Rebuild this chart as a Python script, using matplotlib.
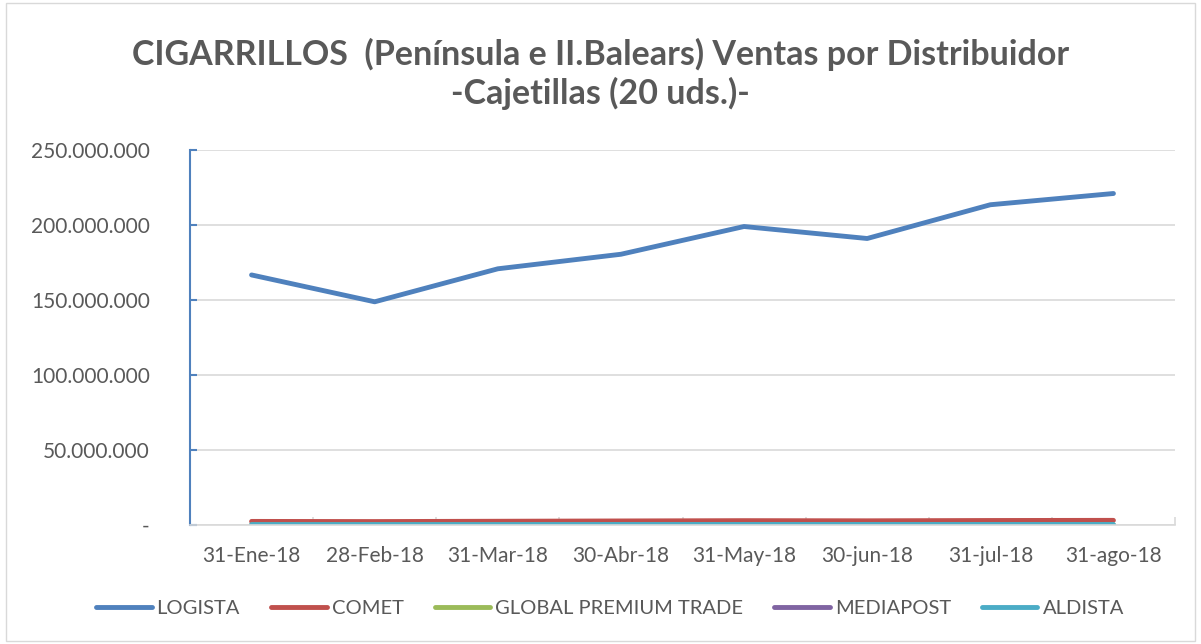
import numpy as np
import matplotlib.pyplot as plt
from matplotlib.ticker import FuncFormatter

# Данные
fechas = ['31-Ene-18', '28-Feb-18', '31-Mar-18', '30-Abr-18',
          '31-May-18', '30-jun-18', '31-jul-18', '31-ago-18']
logista = [166.7e6, 148.8e6, 170.8e6, 180.5e6, 199.0e6, 191.0e6, 213.5e6, 221.0e6]
comet = [2.4e6, 2.3e6, 2.5e6, 2.7e6, 2.9e6, 2.8e6, 3.0e6, 3.1e6]
global_premium = [0.05e6, 0.05e6, 0.05e6, 0.05e6, 0.06e6, 0.06e6, 0.06e6, 0.06e6]
mediapost = [0.1e6, 0.1e6, 0.1e6, 0.1e6, 0.1e6, 0.1e6, 0.1e6, 0.1e6]
aldista = [0.3e6, 0.3e6, 0.3e6, 0.35e6, 0.35e6, 0.35e6, 0.35e6, 0.35e6]

series = [
    ('LOGISTA', logista, '#4f81bd'),
    ('COMET', comet, '#c0504d'),
    ('GLOBAL PREMIUM TRADE', global_premium, '#9bbb59'),
    ('MEDIAPOST', mediapost, '#8064a2'),
    ('ALDISTA', aldista, '#4bacc6'),
]

plt.rcParams['font.family'] = ['Lato', 'DejaVu Sans']
gris = '#595959'

fig = plt.figure(figsize=(12.01, 6.44), dpi=100)
ax = fig.add_axes([190 / 1201, 1 - 525 / 644, 985 / 1201, 375 / 644])

x = np.arange(len(fechas))
for nombre, valores, color in series:
    ax.plot(x, valores, color=color, lw=3.5, label=nombre,
            solid_capstyle='round', solid_joinstyle='round')

ax.set_xlim(-0.5, len(fechas) - 0.5)
ax.set_ylim(0, 250e6)
ax.set_yticks(np.arange(0, 250e6 + 1, 50e6))


def fmt(v, pos):
    if v == 0:
        return '-'
    return f'{int(v):,}'.replace(',', '.')


ax.yaxis.set_major_formatter(FuncFormatter(fmt))
ax.set_xticks(x)
ax.set_xticklabels(fechas)
ax.set_xticks(np.arange(-0.5, len(fechas)), minor=True)

ax.grid(axis='y', color='#d9d9d9', lw=1.2)
ax.set_axisbelow(True)
for s in ['top', 'right']:
    ax.spines[s].set_visible(False)
ax.spines['left'].set_color('#4f81bd')
ax.spines['left'].set_linewidth(1.5)
ax.spines['bottom'].set_color('#d9d9d9')
ax.spines['bottom'].set_linewidth(1.2)

ax.tick_params(axis='y', direction='in', colors='#4f81bd', length=5, width=1.5,
               labelcolor=gris, labelsize=15, pad=29)
ax.tick_params(axis='x', which='major', length=0, labelcolor=gris, labelsize=15, pad=15)
ax.tick_params(axis='x', which='minor', direction='in', length=6, color='#d9d9d9', width=1.2)

fig.text(0.5, 1 - 74 / 644, 'CIGARRILLOS  (Península e II.Balears) Ventas por Distribuidor\n-Cajetillas (20 uds.)-',
         ha='center', va='center', fontsize=24.5, fontweight='bold', color=gris, linespacing=1.2)

fig.legend(loc='center', bbox_to_anchor=(610 / 1201, 1 - 608 / 644), ncol=5, frameon=False,
           fontsize=14.5, handlelength=2.75, handletextpad=0.25, columnspacing=1.55,
           labelcolor=gris)

# Marco exterior
fig.patches.append(plt.Rectangle((0.005, 0.005), 0.99, 0.99, transform=fig.transFigure,
                                 fill=False, edgecolor='#d9d9d9', lw=1))

plt.savefig('out.png', dpi=100)
